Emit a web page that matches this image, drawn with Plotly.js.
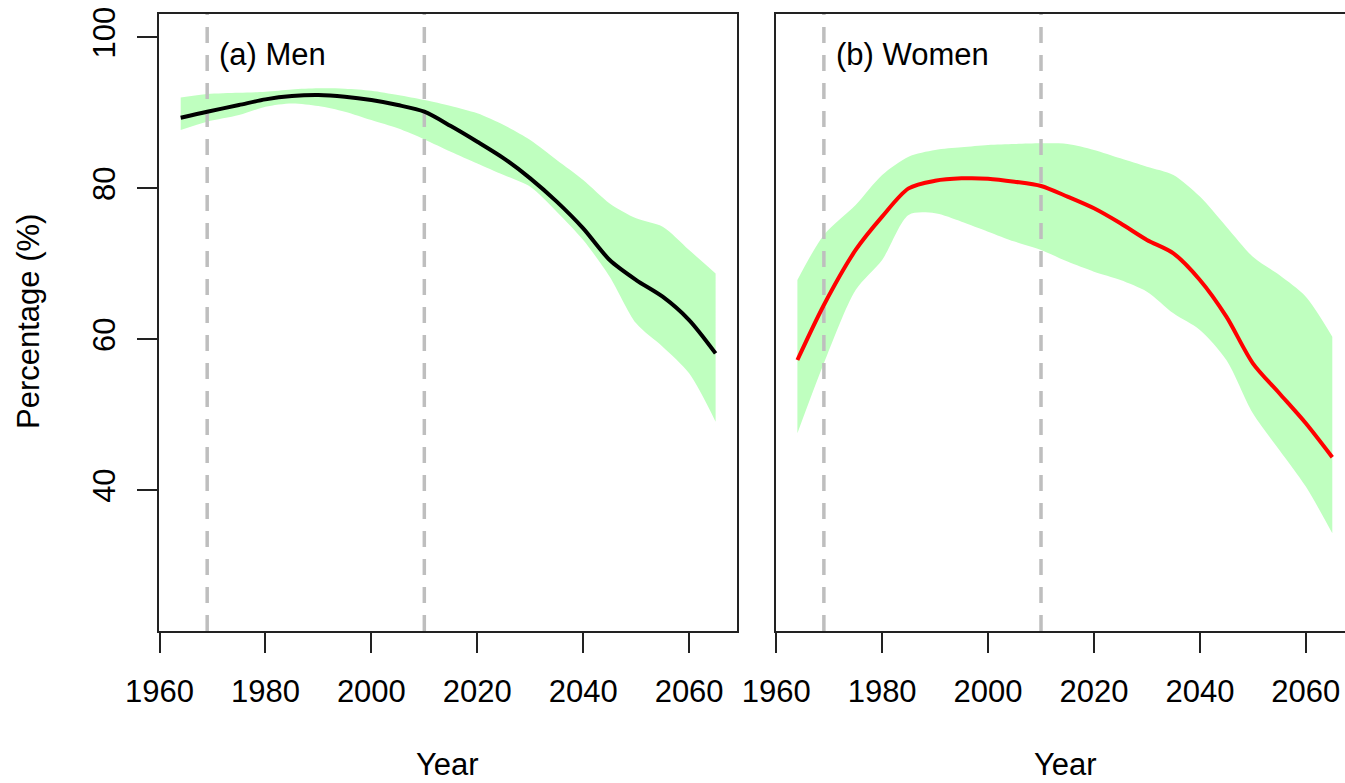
<!DOCTYPE html>
<html><head><meta charset="utf-8">
<script src="https://cdn.plot.ly/plotly-3.0.1.min.js"></script>
<style>html,body{margin:0;padding:0;background:#fff}#chart{width:1345px;height:783px}</style>
</head><body><div id="chart"></div>
<script>
// ---- data ----
const years = [1964,1969,1975,1980,1985,1990,1995,2000,2005,2010,2015,2020,2025,2030,2035,2040,2045,2050,2055,2060,2065];
const menMean  = [89.35,90.15,91.03,91.78,92.22,92.35,92.13,91.69,91.03,90.15,88.25,86.17,83.97,81.32,78.23,74.69,70.5,67.85,65.64,62.55,58.14];
const menUpper = [92.04,92.49,92.66,92.8,93.1,93.24,93.2,92.93,92.35,91.69,90.9,89.93,88.38,86.39,83.74,81.1,78.0,76.02,74.9,71.82,68.73];
const menLower = [87.72,88.82,89.7,90.81,91.25,90.9,90.15,89.04,87.94,86.48,84.85,83.3,81.76,80.21,76.9,73.15,68.29,62.11,59.02,55.49,49.09];
const womenMean  = [57.26,64.55,71.83,76.25,79.99,81.0,81.32,81.28,80.88,80.31,78.9,77.35,75.36,73.16,71.39,67.86,63.0,56.82,52.85,48.87,44.37];
const womenUpper = [67.86,73.82,77.79,81.77,84.19,85.08,85.43,85.74,85.87,85.96,85.87,85.08,83.97,82.87,81.77,78.9,74.92,70.95,68.52,65.65,60.35];
const womenLower = [47.55,56.82,66.53,70.51,76.47,76.69,75.58,74.26,72.94,71.83,70.29,68.96,67.86,66.31,63.44,61.24,57.26,50.2,45.34,40.49,34.3];
const refYears = [1969, 2010];
const xTicks = [1960,1980,2000,2020,2040,2060];
const yTicks = [40,60,80,100];
const panelLabels = ['(a) Men','(b) Women'];
const xTitle = 'Year';
const yTitle = 'Percentage (%)';

// ---- layout geometry ----
const W = 1345, H = 783;
const px = v => v / W, py = v => 1 - v / H;
const yRange = [21.36, 103.09];
const FONT = 'Liberation Sans, Arial, Helvetica, sans-serif';
const fs = 31;
const bandColor = '#bfffbf';
const refColor = '#bebebe';

function panel(xa, ya, upper, lower, mean, color) {
  const tr = [];
  tr.push({x: years, y: lower, xaxis: xa, yaxis: ya, mode: 'lines', line: {width: 0, shape: 'spline', smoothing: 0.8}, hoverinfo: 'skip', showlegend: false});
  tr.push({x: years, y: upper, xaxis: xa, yaxis: ya, mode: 'lines', line: {width: 0, shape: 'spline', smoothing: 0.8}, fill: 'tonexty', fillcolor: bandColor, hoverinfo: 'skip', showlegend: false});
  refYears.forEach(r => tr.push({x: [r, r], y: yRange, xaxis: xa, yaxis: ya, mode: 'lines', line: {color: refColor, width: 3.5, dash: '16px,12px'}, hoverinfo: 'skip', showlegend: false}));
  tr.push({x: years, y: mean, xaxis: xa, yaxis: ya, mode: 'lines', line: {color: color, width: 4, shape: 'spline', smoothing: 0.8}, showlegend: false});
  return tr;
}

const data = [].concat(
  panel('x', 'y', menUpper, menLower, menMean, '#000000'),
  panel('x2', 'y2', womenUpper, womenLower, womenMean, '#ff0000')
);

const axisCommon = {
  showgrid: false, zeroline: false, showline: true, linecolor: '#222', linewidth: 2,
  ticks: 'outside', ticklen: 20, tickwidth: 2, tickcolor: '#222',
  tickfont: {family: FONT, size: fs, color: '#000'}
};

const layout = {
  width: W, height: H,
  margin: {l: 0, r: 0, t: 0, b: 0, pad: 0},
  paper_bgcolor: '#fff', plot_bgcolor: '#fff',
  showlegend: false,
  xaxis: Object.assign({}, axisCommon, {domain: [px(159.3), px(737)], range: [1959.96, 2069.04], tickvals: xTicks, ticktext: xTicks.map(String), mirror: true, anchor: 'y', ticklabelstandoff: 12}),
  yaxis: Object.assign({}, axisCommon, {domain: [py(631), py(14)], range: yRange, tickvals: yTicks, ticktext: yTicks.map(String), mirror: true, anchor: 'x', tickangle: -90, ticklabelstandoff: 10}),
  xaxis2: Object.assign({}, axisCommon, {domain: [px(776), 1], range: [1959.96, 2067.4], tickvals: xTicks, ticktext: xTicks.map(String), mirror: true, anchor: 'y2', ticklabelstandoff: 12}),
  yaxis2: Object.assign({}, axisCommon, {domain: [py(631), py(14)], range: yRange, ticks: '', showticklabels: false, mirror: false, anchor: 'x2'}),
  annotations: [
    {text: panelLabels[0], xref: 'x', yref: 'y', x: 1971.1, y: 97.7, xanchor: 'left', yanchor: 'middle', showarrow: false, borderpad: 0, font: {family: FONT, size: fs, color: '#000'}},
    {text: panelLabels[1], xref: 'x2', yref: 'y2', x: 1971.1, y: 97.7, xanchor: 'left', yanchor: 'middle', showarrow: false, borderpad: 0, font: {family: FONT, size: fs, color: '#000'}},
    {text: yTitle, xref: 'paper', yref: 'paper', x: px(28), y: py(322), xanchor: 'center', yanchor: 'middle', textangle: -90, showarrow: false, borderpad: 0, font: {family: FONT, size: fs, color: '#000'}},
    {text: xTitle, xref: 'paper', yref: 'paper', x: px(448), y: py(764), xanchor: 'center', yanchor: 'middle', showarrow: false, borderpad: 0, font: {family: FONT, size: fs, color: '#000'}},
    {text: xTitle, xref: 'paper', yref: 'paper', x: px(1065), y: py(764), xanchor: 'center', yanchor: 'middle', showarrow: false, borderpad: 0, font: {family: FONT, size: fs, color: '#000'}}
  ]
};

Plotly.newPlot('chart', data, layout, {displayModeBar: false, staticPlot: true});
</script></body></html>
